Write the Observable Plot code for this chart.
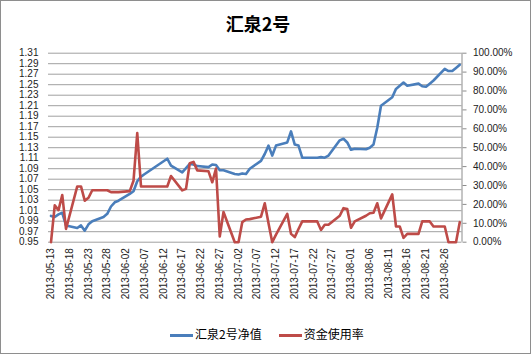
<!DOCTYPE html>
<html><head><meta charset="utf-8">
<script src="https://cdn.jsdelivr.net/npm/d3@7"></script>
<script src="https://cdn.jsdelivr.net/npm/@observablehq/plot@0.6"></script>
<style>
body{margin:0;background:#fff;}
#wrap{position:relative;width:531px;height:354px;overflow:hidden;background:#fff;}
#chart{position:absolute;left:0;top:0;}
#title{position:absolute;left:0;width:516px;top:12px;text-align:center;font-family:"Noto Sans CJK SC",sans-serif;font-weight:bold;font-size:18px;line-height:22px;color:#000;}
#legend{position:absolute;top:325px;left:170px;font-family:"Noto Sans CJK SC",sans-serif;font-size:12px;line-height:18px;color:#000;white-space:nowrap;}
#legend .sw{display:inline-block;width:23px;height:2.5px;vertical-align:middle;margin-right:2px;}
#border{position:absolute;left:0;top:0;right:0;bottom:0;border:1px solid #8e8e8e;pointer-events:none;}
</style></head><body>
<div id="wrap"><div id="chart"></div><div id="title">汇泉2号</div>
<div id="legend"><span class="sw" style="background:#4a7ebb"></span><span>汇泉2号净值</span><span class="sw" style="background:#be4b48;margin-left:17px"></span><span>资金使用率</span></div>
<div id="border"></div></div>
<script>
const dates = ["2013-05-13","2013-05-14","2013-05-15","2013-05-16","2013-05-17",
"2013-05-20","2013-05-21","2013-05-22","2013-05-23","2013-05-24",
"2013-05-27","2013-05-28","2013-05-29","2013-05-30","2013-05-31",
"2013-06-03","2013-06-04","2013-06-05","2013-06-06","2013-06-07",
"2013-06-13","2013-06-14",
"2013-06-17","2013-06-18","2013-06-19","2013-06-20","2013-06-21",
"2013-06-24","2013-06-25","2013-06-26","2013-06-27","2013-06-28",
"2013-07-01","2013-07-02","2013-07-03","2013-07-04","2013-07-05",
"2013-07-08","2013-07-09","2013-07-10","2013-07-11","2013-07-12",
"2013-07-15","2013-07-16","2013-07-17","2013-07-18","2013-07-19",
"2013-07-22","2013-07-23","2013-07-24","2013-07-25","2013-07-26",
"2013-07-29","2013-07-30","2013-07-31","2013-08-01","2013-08-02",
"2013-08-05","2013-08-06","2013-08-07","2013-08-08","2013-08-09",
"2013-08-12","2013-08-13","2013-08-14","2013-08-15","2013-08-16",
"2013-08-19","2013-08-20","2013-08-21","2013-08-22","2013-08-23",
"2013-08-26","2013-08-27","2013-08-28","2013-08-29","2013-08-30"];
const nav = [1.000,0.998,1.003,1.006,0.982,
0.977,0.982,0.972,0.984,0.990,
0.998,1.004,1.018,1.026,1.029,
1.042,1.047,1.066,1.075,1.080,
1.109,1.096,
1.083,1.091,1.099,1.098,1.095,
1.093,1.098,1.097,1.087,1.087,
1.080,1.079,1.081,1.080,1.090,
1.105,1.118,1.134,1.115,1.134,
1.140,1.161,1.136,1.134,1.111,
1.111,1.111,1.112,1.111,1.115,
1.144,1.147,1.140,1.126,1.128,
1.127,1.130,1.136,1.168,1.210,
1.226,1.242,1.248,1.254,1.248,
1.252,1.247,1.246,1.252,1.258,
1.280,1.276,1.276,1.282,1.288];
const usage = [0,19.5,17,25,7,
29.5,29.5,22,23.5,27.5,
27.5,27.5,26.5,26.5,26.5,
27,32.5,57.7,29.5,29.5,
29.5,35,
27.4,28.2,41.8,42.5,38,
37.5,31.7,39,3,16,
0,0,10.6,12,12.2,
13.5,20.6,10,0,4,
15,4.4,2.7,7,11,
11,11,6.5,9.2,9.2,
14,18,17.5,7.6,11,
14,15.3,15.6,20.6,12.6,
25.3,8.3,8.3,2.3,4.4,
4.4,11,11,11,8.3,
8.3,0,0,0,10.6];
const leftTicks = [0.95,0.97,0.99,1.01,1.03,1.05,1.07,1.09,1.11,1.13,1.15,1.17,1.19,1.21,1.23,1.25,1.27,1.29,1.31];
const rightTicks = [0,10,20,30,40,50,60,70,80,90,100];
const xTickLabels = ["2013-05-13","2013-05-18","2013-05-23","2013-05-28","2013-06-02","2013-06-07","2013-06-12","2013-06-17","2013-06-22","2013-06-27","2013-07-02","2013-07-07","2013-07-12","2013-07-17","2013-07-22","2013-07-27","2013-08-01","2013-08-06","2013-08-11","2013-08-16","2013-08-21","2013-08-26"];

const parse = d3.utcParse("%Y-%m-%d");
const fmt = d3.utcFormat("%Y-%m-%d");
const yMin = 0.95, yMax = 1.31;
const toLeft = p => yMin + p / 100 * (yMax - yMin);
const rows = dates.map((d, i) => ({date: parse(d), nav: nav[i], usage: usage[i]}));
const xStart = new Date(Date.UTC(2013, 4, 12, 8));
const xEnd = new Date(Date.UTC(2013, 7, 30, 14, 24));

const chart = Plot.plot({
  width: 531, height: 354,
  marginLeft: 48, marginRight: 69.5, marginTop: 52.7, marginBottom: 112.3,
  style: {fontFamily: "'Liberation Sans', Arial, sans-serif", fontSize: "10px", color: "#333", background: "transparent"},
  x: {type: "utc", domain: [xStart, xEnd]},
  y: {domain: [yMin, yMax]},
  marks: [
    Plot.gridY(leftTicks, {stroke: "#a0a0a0", strokeOpacity: 1}),
    Plot.ruleX([xEnd], {stroke: "#8c8c8c"}),
    Plot.axisY({anchor: "left", ticks: leftTicks, tickSize: 0, tickPadding: 10, tickFormat: d3.format(".2f"), label: null, fill: "#222"}),
    Plot.axisY({anchor: "right", ticks: rightTicks.map(toLeft), tickSize: 4, tickPadding: 7, stroke: "#8c8c8c",
      tickFormat: v => (Math.round((v - yMin) / (yMax - yMin) * 1000) / 10).toFixed(2) + "%", label: null, fill: "#222"}),
    Plot.axisX({ticks: xTickLabels.map(parse), tickFormat: fmt, tickRotate: -90, tickSize: 0, tickPadding: 6, label: null, fill: "#222"}),
    Plot.line(rows, {x: "date", y: "nav", stroke: "#4a7ebb", strokeWidth: 2.6}),
    Plot.line(rows, {x: "date", y: d => toLeft(d.usage), stroke: "#be4b48", strokeWidth: 2.6})
  ]
});
document.getElementById("chart").appendChild(chart);
</script>
</body></html>
